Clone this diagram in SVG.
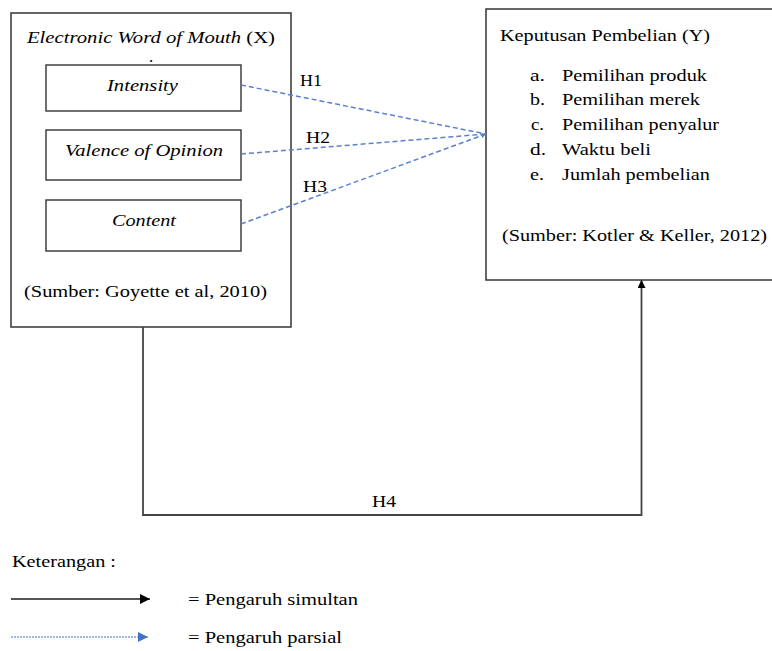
<svg xmlns="http://www.w3.org/2000/svg" width="772" height="651" viewBox="0 0 772 651" font-family="'Liberation Serif', 'Times New Roman', serif">
<defs>
<style>
text{font-family:'Liberation Serif','Times New Roman',serif;font-size:17px;fill:#000}
.it{font-style:italic}
.box{fill:#fff;stroke:#404040;stroke-width:1.6}
.sub{fill:#fff;stroke:#333;stroke-width:1.4}
.dash{fill:none;stroke:#5a80cf;stroke-width:1.5;stroke-dasharray:5 3}
.solid{fill:none;stroke:#444;stroke-width:1.8}
</style>
<marker id="ab" viewBox="0 0 10 10" refX="10" refY="5" markerWidth="8" markerHeight="8" markerUnits="userSpaceOnUse" orient="auto"><path d="M0,0 L10,5 L0,10 z" fill="#000"/></marker>
<marker id="ab2" viewBox="0 0 10 10" refX="10" refY="5" markerWidth="10" markerHeight="10" markerUnits="userSpaceOnUse" orient="auto"><path d="M0,0 L10,5 L0,10 z" fill="#000"/></marker>
<marker id="abl" viewBox="0 0 10 10" refX="10" refY="5" markerWidth="10" markerHeight="10" markerUnits="userSpaceOnUse" orient="auto"><path d="M0,0 L10,5 L0,10 z" fill="#4472c4"/></marker>
<marker id="abs" viewBox="0 0 10 10" refX="10" refY="5" markerWidth="5" markerHeight="5" markerUnits="userSpaceOnUse" orient="auto"><path d="M0,0 L10,5 L0,10 z" fill="#5a80cf"/></marker>
</defs>
<rect width="772" height="651" fill="#fff"/>

<g id="nodeX">
<rect class="box" x="11" y="13" width="280" height="314"/>
<text class="it" x="27" y="43" textLength="248" lengthAdjust="spacingAndGlyphs">Electronic Word of Mouth <tspan font-style="normal">(X)</tspan></text>
<text x="149" y="62" font-size="8">.</text>
<text x="24" y="297" textLength="243" lengthAdjust="spacingAndGlyphs">(Sumber: Goyette et al, 2010)</text>
</g>
<g id="nodeIntensity">
<rect class="sub" x="46" y="65" width="195" height="46"/>
<text class="it" x="107" y="91" textLength="71" lengthAdjust="spacingAndGlyphs">Intensity</text>
</g>
<g id="nodeValence">
<rect class="sub" x="46" y="130" width="195" height="50"/>
<text class="it" x="65" y="156" textLength="158" lengthAdjust="spacingAndGlyphs">Valence of Opinion</text>
</g>
<g id="nodeContent">
<rect class="sub" x="46" y="200" width="195" height="51"/>
<text class="it" x="112" y="226" textLength="64" lengthAdjust="spacingAndGlyphs">Content</text>
</g>

<g id="nodeY">
<rect class="box" x="486" y="9" width="290" height="271"/>
<text x="500" y="41" textLength="210" lengthAdjust="spacingAndGlyphs">Keputusan Pembelian (Y)</text>
<text x="530" y="81" textLength="15" lengthAdjust="spacingAndGlyphs">a.</text><text x="562" y="81" textLength="145" lengthAdjust="spacingAndGlyphs">Pemilihan produk</text>
<text x="530" y="105" textLength="15" lengthAdjust="spacingAndGlyphs">b.</text><text x="562" y="105" textLength="138" lengthAdjust="spacingAndGlyphs">Pemilihan merek</text>
<text x="531" y="130" textLength="13" lengthAdjust="spacingAndGlyphs">c.</text><text x="562" y="130" textLength="157" lengthAdjust="spacingAndGlyphs">Pemilihan penyalur</text>
<text x="530" y="155" textLength="16" lengthAdjust="spacingAndGlyphs">d.</text><text x="562" y="155" textLength="89" lengthAdjust="spacingAndGlyphs">Waktu beli</text>
<text x="530" y="180" textLength="14" lengthAdjust="spacingAndGlyphs">e.</text><text x="562" y="180" textLength="148" lengthAdjust="spacingAndGlyphs">Jumlah pembelian</text>
<text x="502" y="241" textLength="265" lengthAdjust="spacingAndGlyphs">(Sumber: Kotler &amp; Keller, 2012)</text>
</g>

<g id="connectors">
<line class="dash" x1="241" y1="85" x2="486" y2="134"/>
<line class="dash" x1="241" y1="154" x2="486" y2="134"/>
<line class="dash" x1="241" y1="224" x2="486" y2="134" marker-end="url(#abs)"/>
<polyline class="solid" points="143,327 143,515 641.5,515 641.5,280" marker-end="url(#ab)"/>
<text x="300" y="86" textLength="22" lengthAdjust="spacingAndGlyphs">H1</text>
<text x="306" y="143" textLength="24" lengthAdjust="spacingAndGlyphs">H2</text>
<text x="303" y="192" textLength="24" lengthAdjust="spacingAndGlyphs">H3</text>
<text x="372" y="507" textLength="24" lengthAdjust="spacingAndGlyphs">H4</text>
</g>

<g id="legend">
<text x="12" y="567" textLength="104" lengthAdjust="spacingAndGlyphs">Keterangan :</text>
<line x1="11" y1="599" x2="150" y2="599" stroke="#555" stroke-width="1.8" marker-end="url(#ab2)"/>
<text x="188" y="605" textLength="170" lengthAdjust="spacingAndGlyphs">= Pengaruh simultan</text>
<line x1="11" y1="637" x2="148" y2="637" stroke="#4472c4" stroke-width="1" stroke-dasharray="2 1" marker-end="url(#abl)"/>
<text x="188" y="643" textLength="154" lengthAdjust="spacingAndGlyphs">= Pengaruh parsial</text>
</g>
</svg>
